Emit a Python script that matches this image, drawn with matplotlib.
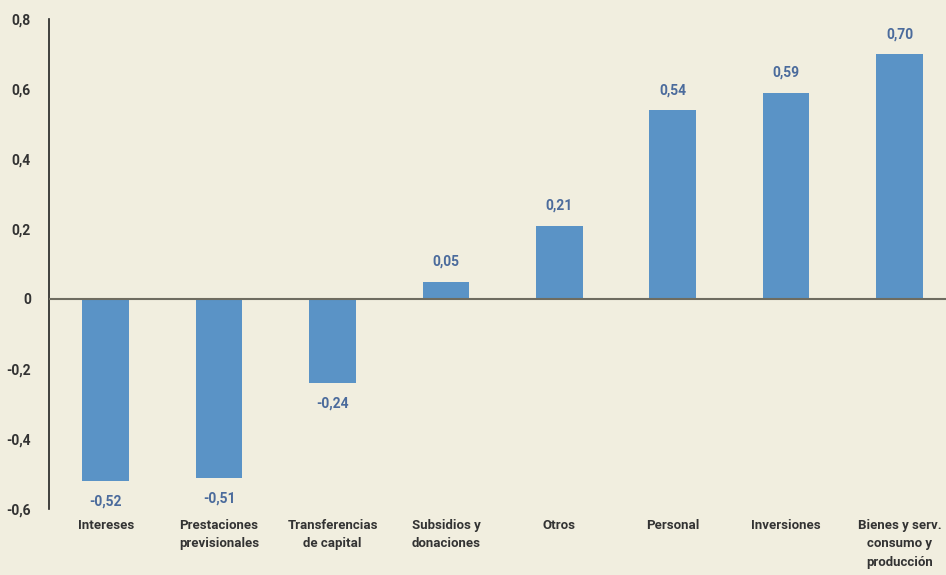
import matplotlib
matplotlib.use("Agg")
import matplotlib.pyplot as plt

categorias = ["Intereses", "Prestaciones\nprevisionales", "Transferencias\nde capital",
              "Subsidios y\ndonaciones", "Otros", "Personal", "Inversiones",
              "Bienes y serv.\nconsumo y\nproducción"]
valores = [-0.52, -0.51, -0.24, 0.05, 0.21, 0.54, 0.59, 0.70]
yticks = [-0.6, -0.4, -0.2, 0, 0.2, 0.4, 0.6, 0.8]

fondo = "#F1EEDF"
azul = "#5A93C6"
fam = ["Roboto", "DejaVu Sans"]

fig = plt.figure(figsize=(9.46, 5.75), dpi=100, facecolor=fondo)
ax = fig.add_axes([49 / 946, 1 - 509 / 575, 1 - 49 / 946, 490 / 575])
ax.set_facecolor(fondo)

x = list(range(len(valores)))
ax.bar(x, valores, width=0.41, color=azul, zorder=2)
ax.axhline(0, color="#6E6C60", lw=1.5, zorder=3)

for xi, v in zip(x, valores):
    txt = ("%.2f" % v).replace(".", ",")
    if v >= 0:
        ax.annotate(txt, (xi, v), xytext=(0, 9), textcoords="offset points",
                    ha="center", va="bottom", color="#4B6B9C", fontsize=10,
                    fontweight="bold", family=fam)
    else:
        ax.annotate(txt, (xi, v), xytext=(0, -10), textcoords="offset points",
                    ha="center", va="top", color="#4B6B9C", fontsize=10,
                    fontweight="bold", family=fam)

ax.set_ylim(-0.6, 0.8)
ax.set_xlim(-0.5, 7.41)
ax.set_yticks(yticks)
ax.set_yticklabels([("%g" % t).replace(".", ",") for t in yticks],
                   family=fam, fontsize=10, fontweight="bold", color="#333333")
ax.set_xticks(x)
ax.set_xticklabels(categorias, family=fam, fontsize=9.5, fontweight="bold",
                   color="#333333", linespacing=1.55, va="top")
ax.tick_params(axis="y", length=0, pad=13)
ax.tick_params(axis="x", length=0, pad=7)

for s in ["top", "right", "bottom"]:
    ax.spines[s].set_visible(False)
ax.spines["left"].set_color("#222222")
ax.spines["left"].set_linewidth(1.2)

fig.savefig("out.png", dpi=100, facecolor=fondo)
